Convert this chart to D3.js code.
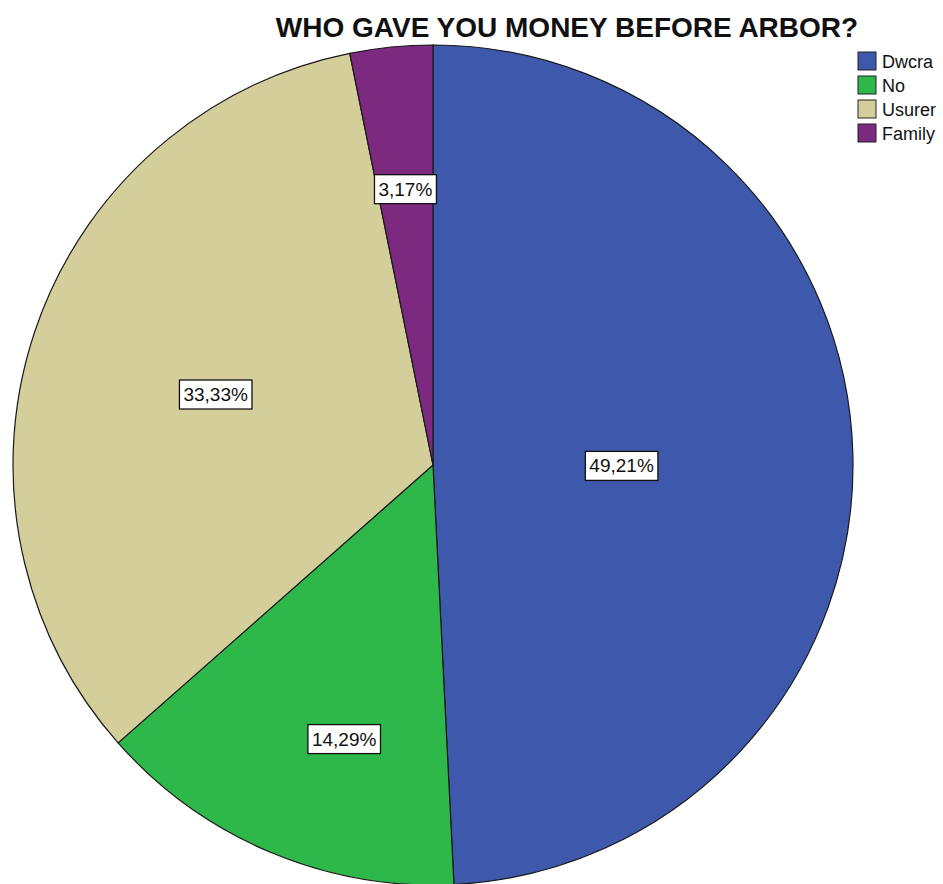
<!DOCTYPE html>
<html>
<head>
<meta charset="utf-8">
<script src="https://cdn.jsdelivr.net/npm/d3@7"></script>
<style>
  html, body { margin: 0; padding: 0; background: #ffffff; }
  svg { display: block; }
</style>
</head>
<body>
<svg id="chart" width="943" height="884"></svg>
<script>
// Survey answers: who lent money before Arbor (respondent counts, n = 63)
const categories = ["Dwcra", "No", "Usurer", "Family"];
const counts = [31, 9, 21, 2];
const percentLabels = ["49,21%", "14,29%", "33,33%", "3,17%"];
const sliceColors = ["#3e58ac", "#2fb84a", "#d4ce9a", "#7c2a7f"];

const width = 943, height = 884;
const cx = 433, cy = 465, radius = 420;
const FONT = "Liberation Sans, Arial, sans-serif";

const svg = d3.select("#chart");

// Title
svg.append("text")
  .attr("x", 567)
  .attr("y", 37)
  .attr("text-anchor", "middle")
  .attr("font-family", FONT)
  .attr("font-weight", "bold")
  .attr("font-size", 28)
  .attr("fill", "#111")
  .text("WHO GAVE YOU MONEY BEFORE ARBOR?");

const data = categories.map((c, i) => ({ name: c, value: counts[i], label: percentLabels[i], color: sliceColors[i] }));

const pie = d3.pie().value(d => d.value).sort(null);
const arcs = pie(data);
const arc = d3.arc().innerRadius(0).outerRadius(radius);

const g = svg.append("g").attr("transform", `translate(${cx},${cy})`);

g.selectAll("path.slice")
  .data(arcs)
  .join("path")
  .attr("class", "slice")
  .attr("d", arc)
  .attr("fill", d => d.data.color)
  .attr("stroke", "#1a1a1a")
  .attr("stroke-width", 1.2);

// Percentage labels: boxed text placed near each slice's mid-angle
const labelRadius = [0.449, 0.686, 0.544, 0.66];
const labelAngleShift = [1.7, -4.9, -0.6, 0];   // degrees
const labels = g.selectAll("g.lbl")
  .data(arcs)
  .join("g")
  .attr("class", "lbl")
  .attr("transform", (d, i) => {
    const a = (d.startAngle + d.endAngle) / 2 + labelAngleShift[i] * Math.PI / 180;
    const r = radius * labelRadius[i];
    return `translate(${r * Math.sin(a)},${-r * Math.cos(a)})`;
  });

labels.each(function(d) {
  const sel = d3.select(this);
  const t = sel.append("text")
    .attr("text-anchor", "middle")
    .attr("dominant-baseline", "central")
    .attr("font-family", FONT)
    .attr("font-size", 19)
    .attr("fill", "#111")
    .text(d.data.label);
  const bb = t.node().getBBox();
  sel.insert("rect", "text")
    .attr("x", bb.x - 4)
    .attr("y", -14.5)
    .attr("width", bb.width + 8)
    .attr("height", 29)
    .attr("fill", "#ffffff")
    .attr("stroke", "#111")
    .attr("stroke-width", 1.3);
});

// Legend
const legend = svg.append("g").attr("transform", "translate(858,52)");
const rows = legend.selectAll("g")
  .data(data)
  .join("g")
  .attr("transform", (d, i) => `translate(0,${i * 24})`);
rows.append("rect")
  .attr("width", 18)
  .attr("height", 18)
  .attr("fill", d => d.color)
  .attr("stroke", "#222")
  .attr("stroke-width", 1);
rows.append("text")
  .attr("x", 24)
  .attr("y", 9.5)
  .attr("dominant-baseline", "central")
  .attr("font-family", FONT)
  .attr("font-size", 18)
  .attr("fill", "#111")
  .text(d => d.name);
</script>
</body>
</html>
